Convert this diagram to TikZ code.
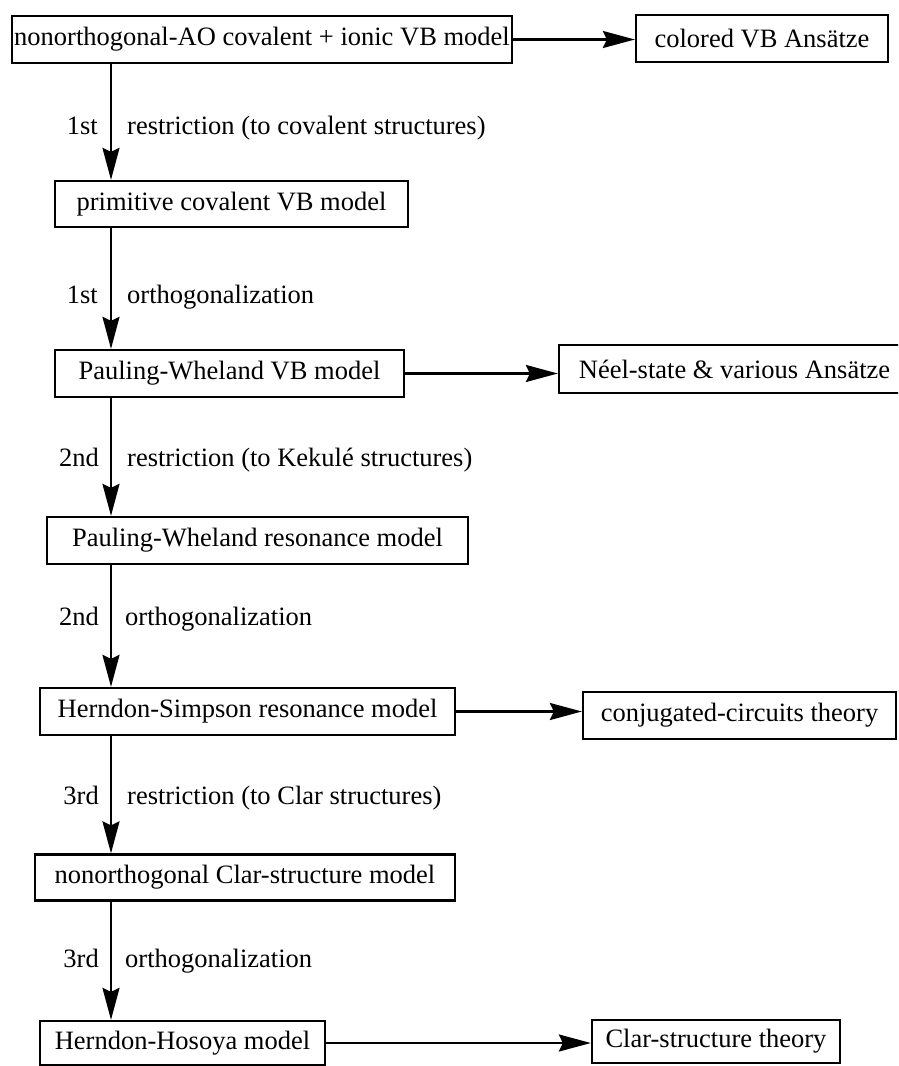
\documentclass[tikz,border=0pt]{standalone}
\usepackage{fontspec}
\setmainfont{Liberation Serif}
\usetikzlibrary{arrows.meta}
\begin{document}
\begin{tikzpicture}[x=1pt,y=-1pt,
  txt/.style={font=\fontsize{26.5}{30}\selectfont},
  box/.style={txt, draw, line width=2.3pt, inner sep=0pt, anchor=center},
  lbl/.style={txt, inner sep=0pt},
  arr/.style={line width=2.3pt, -{Stealth[length=32pt,width=17pt,inset=4pt]}}]
\clip (0,0) rectangle (898,1066);
\coordinate (ax) at (111,0);
% main column
\node[box, minimum width=500pt, minimum height=47pt] (b1) at (262,39.5) {nonorthogonal-AO covalent + ionic VB model};
\node[box, minimum width=353pt, minimum height=46pt] (b2) at (231.5,204) {primitive covalent VB model};
\node[box, minimum width=349pt, minimum height=47pt] (b3) at (229.5,373.5) {Pauling-Wheland VB model};
\node[box, minimum width=421pt, minimum height=47pt] (b4) at (257.5,540.5) {Pauling-Wheland resonance model};
\node[box, minimum width=415pt, minimum height=47pt] (b5) at (247.5,711.5) {Herndon-Simpson resonance model};
\node[box, minimum width=420pt, minimum height=46pt] (b6) at (245,877.5) {nonorthogonal Clar-structure model};
\node[box, minimum width=285pt, minimum height=44pt] (b7) at (182.5,1043) {Herndon-Hosoya model};
% right column
\node[box, minimum width=252pt, minimum height=47pt] (r1) at (762,38.5) {colored VB Ans\"atze};
\node[box, minimum width=351pt, minimum height=48pt] (r2) at (734.5,369) {N\'eel-state \& various Ans\"atze};
\node[box, minimum width=313pt, minimum height=47pt] (r3) at (739.5,715.5) {conjugated-circuits theory};
\node[box, minimum width=248pt, minimum height=43pt] (r4) at (716,1041.5) {Clar-structure theory};
% vertical arrows
\draw[arr] (b1.south -| ax) -- (b2.north -| ax);
\draw[arr] (b2.south -| ax) -- (b3.north -| ax);
\draw[arr] (b3.south -| ax) -- (b4.north -| ax);
\draw[arr] (b4.south -| ax) -- (b5.north -| ax);
\draw[arr] (b5.south -| ax) -- (b6.north -| ax);
\draw[arr] (b6.south -| ax) -- (b7.north -| ax);
% horizontal arrows
\draw[arr] (b1.east) -- (b1.east -| r1.west);
\draw[arr] (b3.east) -- (b3.east -| r2.west);
\draw[arr] (b5.east) -- (b5.east -| r3.west);
\draw[arr] (b7.east) -- (b7.east -| r4.west);
% labels
\node[lbl, anchor=base east] (o1) at (98,134) {1st};
\node[lbl, anchor=base west] (t1) at (127,134) {restriction (to covalent structures)};
\node[lbl, anchor=base east] (o2) at (98,303) {1st};
\node[lbl, anchor=base west] (t2) at (127,303) {orthogonalization};
\node[lbl, anchor=base east] (o3) at (99,466) {2nd};
\node[lbl, anchor=base west] (t3) at (127,466) {restriction (to Kekul\'e structures)};
\node[lbl, anchor=base east] (o4) at (99,625) {2nd};
\node[lbl, anchor=base west] (t4) at (125,625) {orthogonalization};
\node[lbl, anchor=base east] (o5) at (99,804) {3rd};
\node[lbl, anchor=base west] (t5) at (127,804) {restriction (to Clar structures)};
\node[lbl, anchor=base east] (o6) at (99,967) {3rd};
\node[lbl, anchor=base west] (t6) at (125,967) {orthogonalization};
\end{tikzpicture}
\end{document}
